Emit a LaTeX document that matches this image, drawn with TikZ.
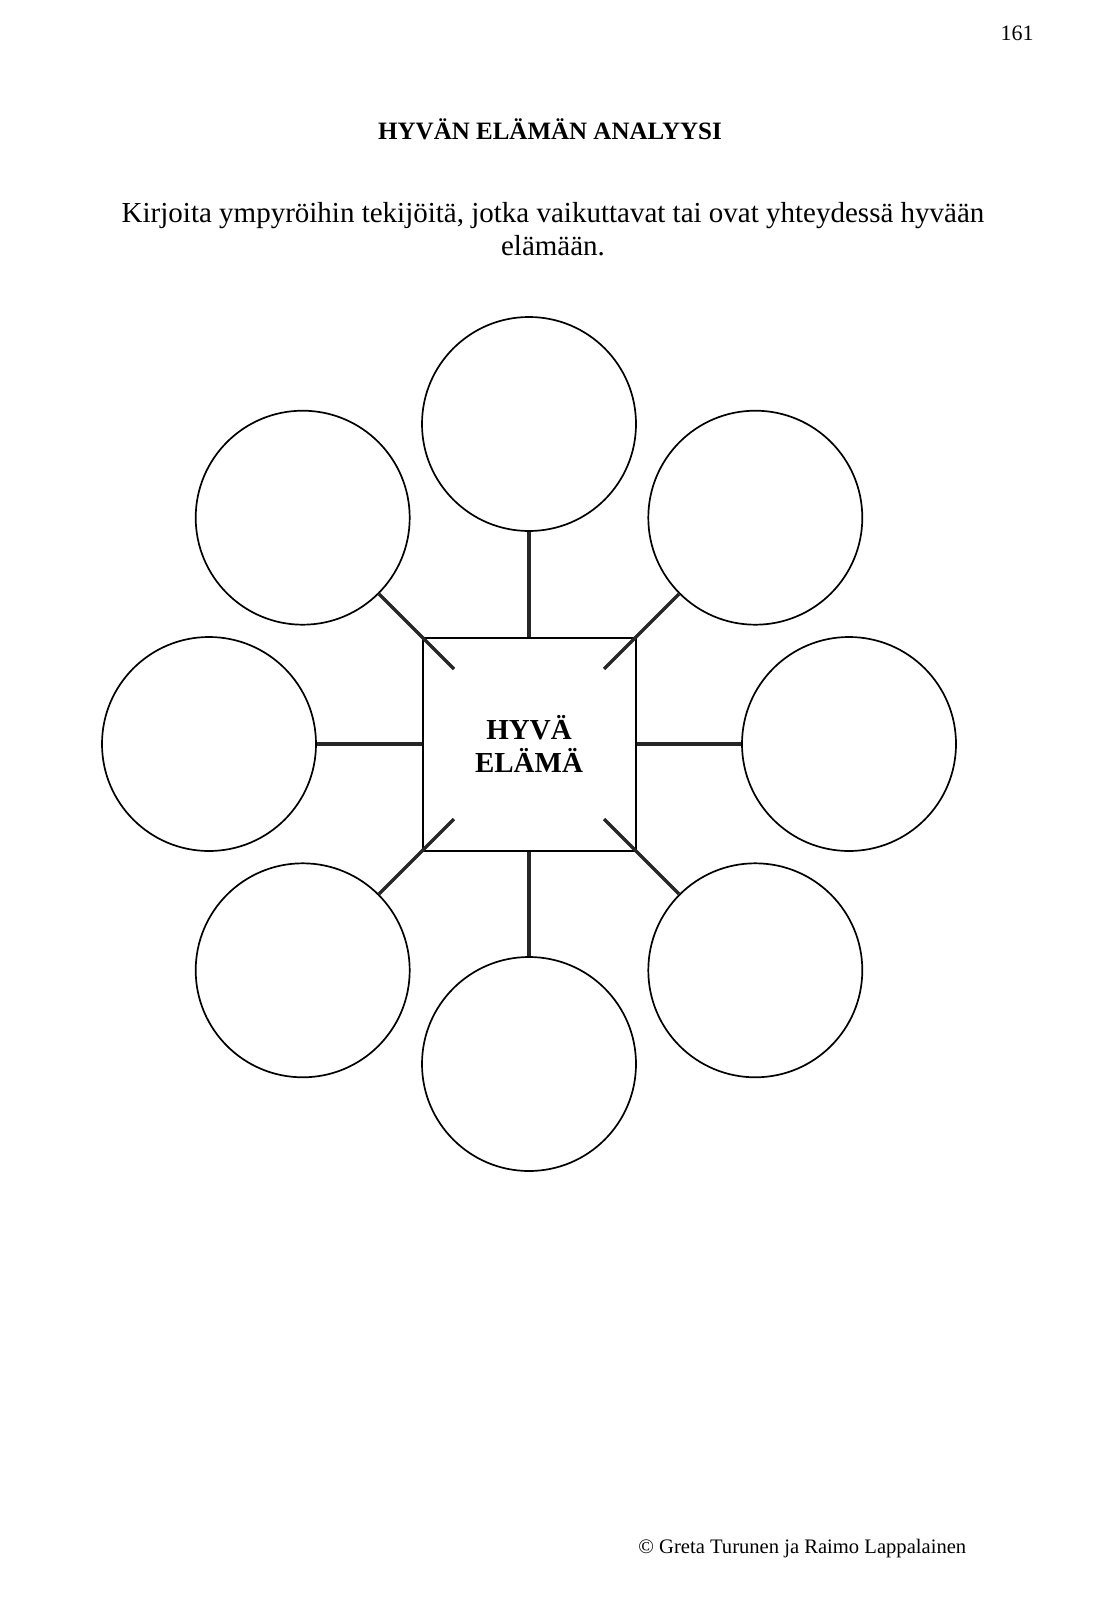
\documentclass[tikz,border=0pt]{standalone}
\usepackage{fontspec}
\setmainfont{Liberation Serif}
\begin{document}
\begin{tikzpicture}[x=0.5pt,y=-0.5pt,
  bubble/.style={circle,draw,line width=0.85pt,minimum size=107pt,inner sep=0pt},
  hub/.style={rectangle,draw,line width=1pt,minimum size=106.5pt,inner sep=0pt,
    align=center,font=\fontsize{14.5pt}{16.9pt}\selectfont\bfseries},
  link/.style={line width=1.75pt,draw=black!85}]
\useasboundingbox (0,0) rectangle (1110,1621);
\fill[white] (0,0) rectangle (1110,1621);
% texts
\node[anchor=base east,inner sep=0pt,font=\fontsize{11pt}{13pt}\selectfont] (pg) at (1034,41) {161};
\node[anchor=base,inner sep=0pt,font=\fontsize{12.5pt}{15pt}\selectfont\bfseries] (title) at (550,140) {HYVÄN ELÄMÄN ANALYYSI};
\node[anchor=base,inner sep=0pt,align=center,font=\fontsize{14.5pt}{16.6pt}\selectfont] (intro) at (553,256) {Kirjoita ympyröihin tekijöitä, jotka vaikuttavat tai ovat yhteydessä hyvään\\elämään.};
\node[anchor=base west,inner sep=0pt,font=\fontsize{10.3pt}{13pt}\selectfont] (foot) at (638,1553) {© Greta Turunen ja Raimo Lappalainen};
% hub
\node[hub] (sq) at (529,744) {HYVÄ\\ELÄMÄ};
% bubbles
\node[bubble] (t)  at (529,424) {};
\node[bubble] (b)  at (529,1064) {};
\node[bubble] (l)  at (209,744) {};
\node[bubble] (r)  at (849,744) {};
\node[bubble] (ul) at (302.7,517.7) {};
\node[bubble] (ur) at (755.3,517.7) {};
\node[bubble] (ll) at (302.7,970.3) {};
\node[bubble] (lr) at (755.3,970.3) {};
% inner ends of the diagonal links
\coordinate (iul) at (454,669);
\coordinate (iur) at (604,669);
\coordinate (ill) at (454,819);
\coordinate (ilr) at (604,819);
% links
\draw[link] (t) -- (sq);
\draw[link] (b) -- (sq);
\draw[link] (l) -- (sq);
\draw[link] (r) -- (sq);
\draw[link] (ul) -- (iul);
\draw[link] (ur) -- (iur);
\draw[link] (ll) -- (ill);
\draw[link] (lr) -- (ilr);
\end{tikzpicture}
\end{document}
